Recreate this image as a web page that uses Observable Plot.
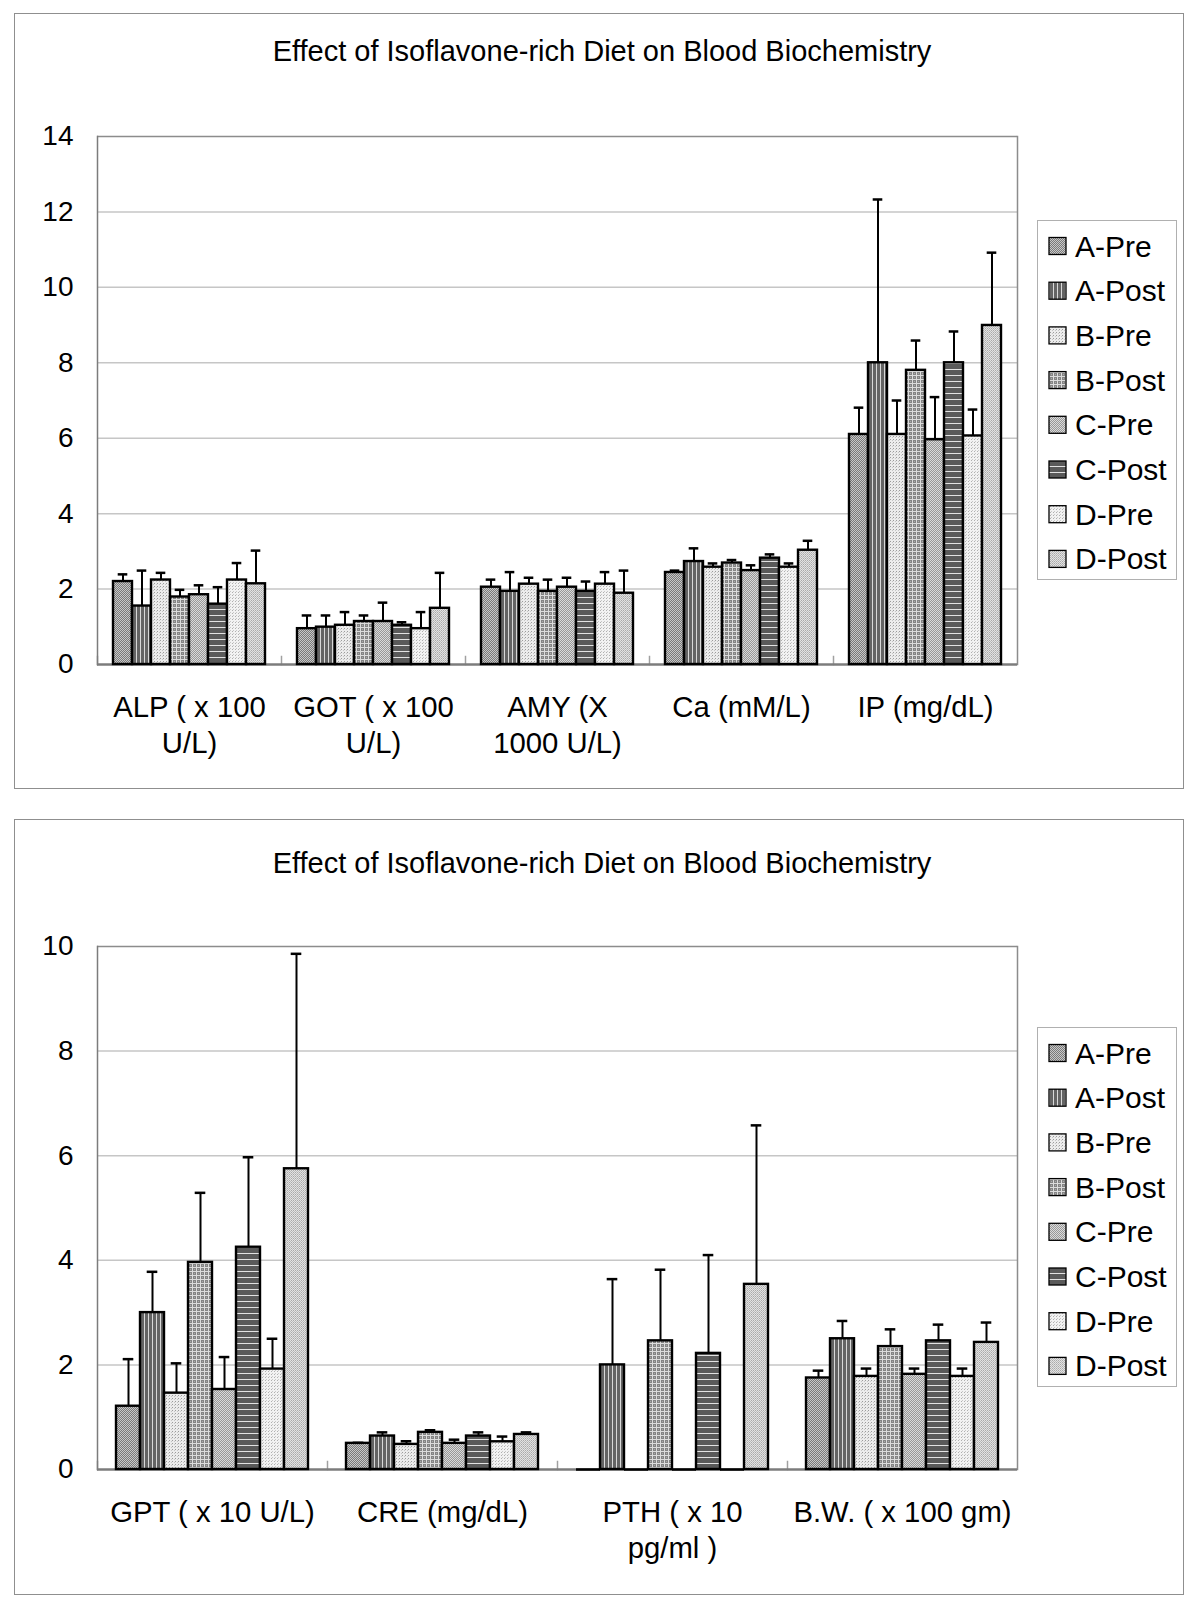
<!DOCTYPE html>
<html><head><meta charset="utf-8">
<script src="https://cdn.jsdelivr.net/npm/d3@7"></script>
<script src="https://cdn.jsdelivr.net/npm/@observablehq/plot@0.6"></script>
<style>
body{margin:0;background:#fff;font-family:"Liberation Sans",Arial,sans-serif;}
#page{position:relative;width:1200px;height:1605px;overflow:hidden;}
.panel{position:absolute;left:14px;width:1170px;height:776px;border:1px solid #8f8f8f;box-sizing:border-box;}
.title{position:absolute;left:0;width:1204px;text-align:center;font-size:29px;line-height:29px;white-space:nowrap;color:#000;}
.chart{position:absolute;left:0;}
.legend{position:absolute;left:1037px;width:140px;height:360px;border:1px solid #b0b0b0;box-sizing:border-box;background:#fff;}
</style></head><body>
<svg width="0" height="0" style="position:absolute">
<defs>
<pattern id="pAPre" width="2" height="2" patternUnits="userSpaceOnUse" shape-rendering="crispEdges"><rect width="2" height="2" fill="#c8c8c8"/><rect width="1" height="1" fill="#7a7a7a"/><rect x="1" y="1" width="1" height="1" fill="#7a7a7a"/></pattern>
<pattern id="pAPost" width="4" height="4" patternUnits="userSpaceOnUse" shape-rendering="crispEdges"><rect width="4" height="4" fill="#646464"/><rect x="3" width="1" height="4" fill="#d8d8d8"/></pattern>
<pattern id="pBPre" width="3" height="3" patternUnits="userSpaceOnUse" shape-rendering="crispEdges"><rect width="3" height="3" fill="#ececec"/><rect width="1" height="1" fill="#9c9c9c"/><rect x="2" y="1" width="1" height="1" fill="#c6c6c6"/></pattern>
<pattern id="pBPost" width="4" height="4" patternUnits="userSpaceOnUse" shape-rendering="crispEdges"><rect width="4" height="4" fill="#dcdcdc"/><rect width="3" height="3" fill="#848484"/><rect x="1" y="1" width="1" height="1" fill="#aaaaaa"/></pattern>
<pattern id="pCPre" width="2" height="2" patternUnits="userSpaceOnUse" shape-rendering="crispEdges"><rect width="2" height="2" fill="#dadada"/><rect width="1" height="1" fill="#989898"/><rect x="1" y="1" width="1" height="1" fill="#989898"/></pattern>
<pattern id="pCPost" width="4" height="6" patternUnits="userSpaceOnUse" shape-rendering="crispEdges"><rect width="4" height="6" fill="#5a5a5a"/><rect y="5" width="4" height="1" fill="#e2e2e2"/></pattern>
<pattern id="pDPre" width="3" height="3" patternUnits="userSpaceOnUse" shape-rendering="crispEdges"><rect width="3" height="3" fill="#f2f2f2"/><rect width="1" height="1" fill="#b0b0b0"/><rect x="1" y="2" width="1" height="1" fill="#c8c8c8"/></pattern>
<pattern id="pDPost" width="2" height="2" patternUnits="userSpaceOnUse" shape-rendering="crispEdges"><rect width="2" height="2" fill="#e2e2e2"/><rect width="1" height="1" fill="#aaaaaa"/><rect x="1" y="1" width="1" height="1" fill="#bcbcbc"/></pattern>
</defs></svg>
<div id="page">
  <div class="panel" style="top:13px"></div>
  <div class="panel" style="top:819px"></div>
  <div class="title" style="top:37px">Effect of Isoflavone-rich Diet on Blood Biochemistry</div>
  <div class="title" style="top:849px">Effect of Isoflavone-rich Diet on Blood Biochemistry</div>
  <div class="chart" id="c1" style="top:100px"></div>
  <div class="chart" id="c2" style="top:900px"></div>
  <div class="legend" id="l1" style="top:220px"></div>
  <div class="legend" id="l2" style="top:1027px"></div>
</div>
<script>
// ---- data ----
const series = ["A-Pre", "A-Post", "B-Pre", "B-Post", "C-Pre", "C-Post", "D-Pre", "D-Post"];

// Chart 1
const cats1 = ["ALP ( x 100 U/L)", "GOT ( x 100 U/L)", "AMY (X 1000 U/L)", "Ca (mM/L)", "IP (mg/dL)"];
const labels1 = ["ALP ( x 100\nU/L)", "GOT ( x 100\nU/L)", "AMY (X\n1000 U/L)", "Ca (mM/L)", "IP (mg/dL)"];
const alpMean = [2.20, 1.55, 2.24, 1.79, 1.85, 1.60, 2.24, 2.14];
const alpSD   = [0.19, 0.94, 0.19, 0.19, 0.25, 0.45, 0.45, 0.88];
const gotMean = [0.95, 0.99, 1.04, 1.14, 1.14, 1.04, 0.95, 1.49];
const gotSD   = [0.35, 0.31, 0.35, 0.16, 0.50, 0.08, 0.44, 0.94];
const amyMean = [2.05, 1.94, 2.13, 1.94, 2.05, 1.94, 2.13, 1.89];
const amySD   = [0.20, 0.51, 0.17, 0.31, 0.25, 0.26, 0.32, 0.60];
const caMean  = [2.44, 2.73, 2.58, 2.69, 2.49, 2.82, 2.58, 3.03];
const caSD    = [0.05, 0.35, 0.10, 0.08, 0.14, 0.10, 0.10, 0.25];
const ipMean  = [6.10, 8.00, 6.10, 7.80, 5.96, 8.00, 6.06, 8.99];
const ipSD    = [0.71, 4.33, 0.90, 0.79, 1.13, 0.83, 0.70, 1.93];

// Chart 2
const cats2 = ["GPT ( x 10 U/L)", "CRE (mg/dL)", "PTH ( x 10 pg/ml )", "B.W. ( x 100 gm)"];
const labels2 = ["GPT ( x 10 U/L)", "CRE (mg/dL)", "PTH ( x 10\npg/ml )", "B.W. ( x 100 gm)"];
const gptMean = [1.21, 3.00, 1.46, 3.96, 1.53, 4.25, 1.92, 5.75];
const gptSD   = [0.90, 0.78, 0.57, 1.33, 0.62, 1.72, 0.58, 4.11];
const creMean = [0.50, 0.64, 0.48, 0.71, 0.50, 0.64, 0.53, 0.67];
const creSD   = [0.01, 0.07, 0.06, 0.04, 0.07, 0.07, 0.10, 0.04];
const pthMean = [0, 2.00, 0, 2.46, 0, 2.22, 0, 3.54];
const pthSD   = [0, 1.64, 0, 1.36, 0, 1.88, 0, 3.04];
const bwMean  = [1.75, 2.50, 1.78, 2.35, 1.82, 2.46, 1.78, 2.43];
const bwSD    = [0.14, 0.34, 0.15, 0.33, 0.11, 0.31, 0.15, 0.38];

// ---- styles ----
const patternFill = ["url(#pAPre)", "url(#pAPost)", "url(#pBPre)", "url(#pBPost)", "url(#pCPre)", "url(#pCPost)", "url(#pDPre)", "url(#pDPost)"];
const FONT = '"Liberation Sans", Arial, sans-serif';

function rows(cats, means, sds) {
  const out = [];
  cats.forEach((c, ci) => series.forEach((s, si) => {
    out.push({cat: c, series: s, value: means[ci][si], sd: sds[ci][si], upper: means[ci][si] + sds[ci][si], fill: patternFill[si]});
  }));
  return out;
}

function chart({cats, labels, means, sds, yMax, height, marginTop, marginBottom, capInset}) {
  const data = rows(cats, means, sds);
  const errData = data.filter(d => d.sd > 0);
  const zeroData = data.filter(d => d.value === 0);
  const plotH = height - marginTop - marginBottom;
  return Plot.plot({
    width: 1040, height, marginLeft: 96, marginRight: 23, marginTop, marginBottom,
    style: {background: "none", fontFamily: FONT, fontSize: "28px", color: "black", overflow: "visible"},
    fx: {domain: cats, paddingInner: 0, paddingOuter: 0, axis: null, label: null},
    x: {domain: series, paddingInner: 0, paddingOuter: 0.72, axis: null},
    y: {domain: [0, yMax], axis: null},
    color: {type: "identity"},
    marks: [
      Plot.gridY({ticks: d3.range(2, yMax, 2), stroke: "#c6c6c6", strokeOpacity: 1, strokeWidth: 1.5}),
      Plot.ruleY([yMax], {stroke: "#8c8c8c", strokeWidth: 1.5}),
      Plot.frame({anchor: "left", insetTop: plotH - 8, stroke: "#a0a0a0", strokeWidth: 1.5}),
      Plot.frame({anchor: "left", facetAnchor: "left", stroke: "#7c7c7c", strokeWidth: 1.5}),
      Plot.frame({anchor: "right", facetAnchor: "right", stroke: "#8c8c8c", strokeWidth: 1.5}),
      Plot.axisY({ticks: d3.range(0, yMax + 1, 2), tickSize: 0, tickPadding: 24, label: null, fill: "black", fontSize: 28}),
      Plot.ruleY([0], {stroke: "#7c7c7c", strokeWidth: 2.5}),
      Plot.barY(data, {fx: "cat", x: "series", y: "value", fill: "fill", stroke: "black", strokeWidth: 2.4}),
      Plot.tickY(zeroData, {fx: "cat", x: "series", y: "value", stroke: "black", strokeWidth: 2.5}),
      Plot.ruleX(errData, {fx: "cat", x: "series", y1: "value", y2: "upper", stroke: "black", strokeWidth: 2}),
      Plot.tickY(errData, {fx: "cat", x: "series", y: "upper", stroke: "black", strokeWidth: 2.5, insetLeft: capInset, insetRight: capInset}),
      Plot.text(cats, {fx: d => d, text: (d, i) => labels[i], frameAnchor: "bottom", lineAnchor: "top", dy: 28, lineHeight: 1.2, fontSize: 29.3, fill: "black"})
    ]
  });
}

document.getElementById("c1").appendChild(chart({
  cats: cats1, labels: labels1,
  means: [alpMean, gotMean, amyMean, caMean, ipMean],
  sds: [alpSD, gotSD, amySD, caSD, ipSD],
  yMax: 14, height: 700, marginTop: 36, marginBottom: 136, capInset: 4.7
}));
document.getElementById("c2").appendChild(chart({
  cats: cats2, labels: labels2,
  means: [gptMean, creMean, pthMean, bwMean],
  sds: [gptSD, creSD, pthSD, bwSD],
  yMax: 10, height: 700, marginTop: 46, marginBottom: 131, capInset: 6.7
}));

function legend(el, firstY) {
  const svg = d3.select(el).append("svg").attr("width", 138).attr("height", 358)
    .style("position", "absolute").style("left", "0").style("top", "0");
  series.forEach((s, i) => {
    const cy = firstY + i * 44.7;
    svg.append("rect").attr("x", 11).attr("y", cy - 8.5).attr("width", 17).attr("height", 17)
      .attr("fill", patternFill[i]).attr("stroke", "black").attr("stroke-width", 1.3);
    svg.append("text").attr("x", 37).attr("y", cy + 10.5).attr("font-family", FONT)
      .attr("font-size", 30).text(s);
  });
}
legend(document.getElementById("l1"), 25);
legend(document.getElementById("l2"), 25);
</script>
</body></html>
